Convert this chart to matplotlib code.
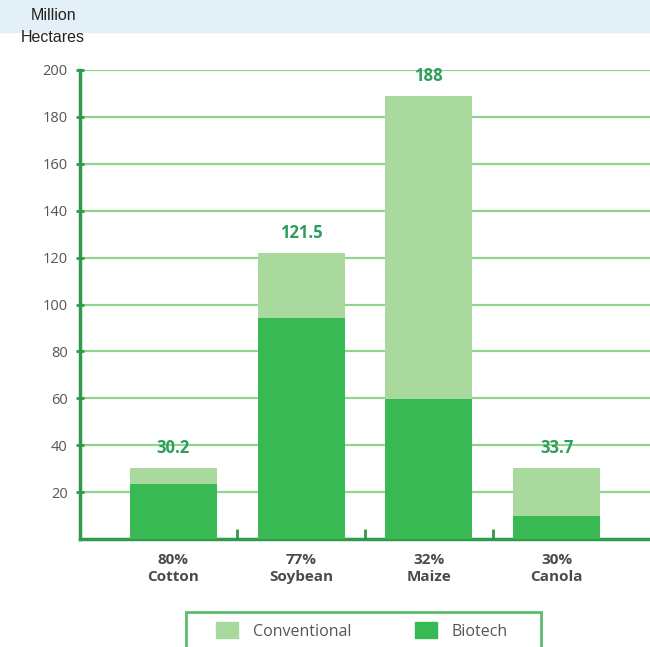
import matplotlib
matplotlib.use('Agg')
import matplotlib.pyplot as plt
import matplotlib.patches as patches

crops = ['Cotton', 'Soybean', 'Maize', 'Canola']
shares = ['80%', '77%', '32%', '30%']
biotech = [23.5, 94.2, 59.7, 9.8]
totals = [30.3, 122.0, 189.0, 30.3]
total_labels = ['30.2', '121.5', '188', '33.7']
yticks = [20, 40, 60, 80, 100, 120, 140, 160, 180, 200]

BIOTECH = '#39b954'
CONVENTIONAL = '#a9d99c'
GRID = '#8fd48f'
SPINE = '#2f9a4a'
LABEL = '#2e9e5a'

plt.rcParams['font.family'] = ['Open Sans', 'DejaVu Sans']

fig = plt.figure(figsize=(6.5, 6.47), dpi=100)

# light blue band at the top
fig.patches.append(patches.Rectangle((0, 1 - 32 / 647.), 1, 32 / 647.,
                                     transform=fig.transFigure,
                                     color='#e4f0f7', zorder=0))
fig.text(54 / 650., 1 - 16 / 647., 'Million', ha='center', va='center',
         fontsize=11.5, color='#222222', family='Liberation Sans')
fig.text(53 / 650., 1 - 37 / 647., 'Hectares', ha='center', va='center',
         fontsize=11.5, color='#222222', family='Liberation Sans')

ax = fig.add_axes([80 / 650., 1 - 539 / 647., 570 / 650., 469 / 647.])

x = list(range(len(crops)))
conventional = [t - b for t, b in zip(totals, biotech)]
ax.bar(x, biotech, width=0.68, color=BIOTECH, zorder=3, label='Biotech')
ax.bar(x, conventional, bottom=biotech, width=0.68, color=CONVENTIONAL,
       zorder=3, label='Conventional')

for xi, tot, lab in zip(x, totals, total_labels):
    ax.annotate(lab, (xi, tot), xytext=(0, 8), textcoords='offset points',
                ha='center', va='bottom', fontsize=12, fontweight='bold',
                color=LABEL, zorder=4)

ax.set_xlim(-0.73, 3.73)
ax.set_ylim(0, 200)
ax.set_yticks(yticks)
ax.yaxis.grid(True, color=GRID, linewidth=1.6, zorder=1)
ax.set_axisbelow(True)
ax.tick_params(axis='y', length=6, width=2, color=SPINE, direction='inout',
               labelsize=10.5, labelcolor='#555555', pad=6)

ax.set_xticks([0.5, 1.5, 2.5], minor=False)
ax.set_xticklabels([])
ax.tick_params(axis='x', direction='in', length=7, width=2, color=SPINE)
ax.set_xticks(x, minor=True)
ax.set_xticklabels(['%s\n%s' % (s, c) for s, c in zip(shares, crops)],
                   minor=True)
ax.tick_params(axis='x', which='minor', length=0, pad=10, labelsize=11,
               labelcolor='#4a4a4a')
for t in ax.xaxis.get_minorticklabels():
    t.set_fontweight('bold')
    t.set_linespacing(1.3)

for side in ['top', 'right']:
    ax.spines[side].set_visible(False)
for side in ['left', 'bottom']:
    ax.spines[side].set_color(SPINE)
    ax.spines[side].set_linewidth(2.5)

# legend box, drawn by hand so the padding matches
fig.patches.append(patches.Rectangle((186 / 650., -0.01), 355 / 650.,
                                     1 - 612 / 647. + 0.01,
                                     transform=fig.transFigure,
                                     fill=False, edgecolor='#5cbf6e',
                                     linewidth=2))
handles = [patches.Patch(color=CONVENTIONAL, label='Conventional'),
           patches.Patch(color=BIOTECH, label='Biotech')]
leg = fig.legend(handles=handles, loc='center',
                 bbox_to_anchor=(362 / 650., 1 - 631 / 647.), ncol=2,
                 fontsize=11.5, frameon=False,
                 handlelength=1.4, handleheight=1.1, columnspacing=4.0,
                 handletextpad=0.9, borderaxespad=0)
for t in leg.get_texts():
    t.set_color('#555555')

fig.savefig('out.png', dpi=100)
